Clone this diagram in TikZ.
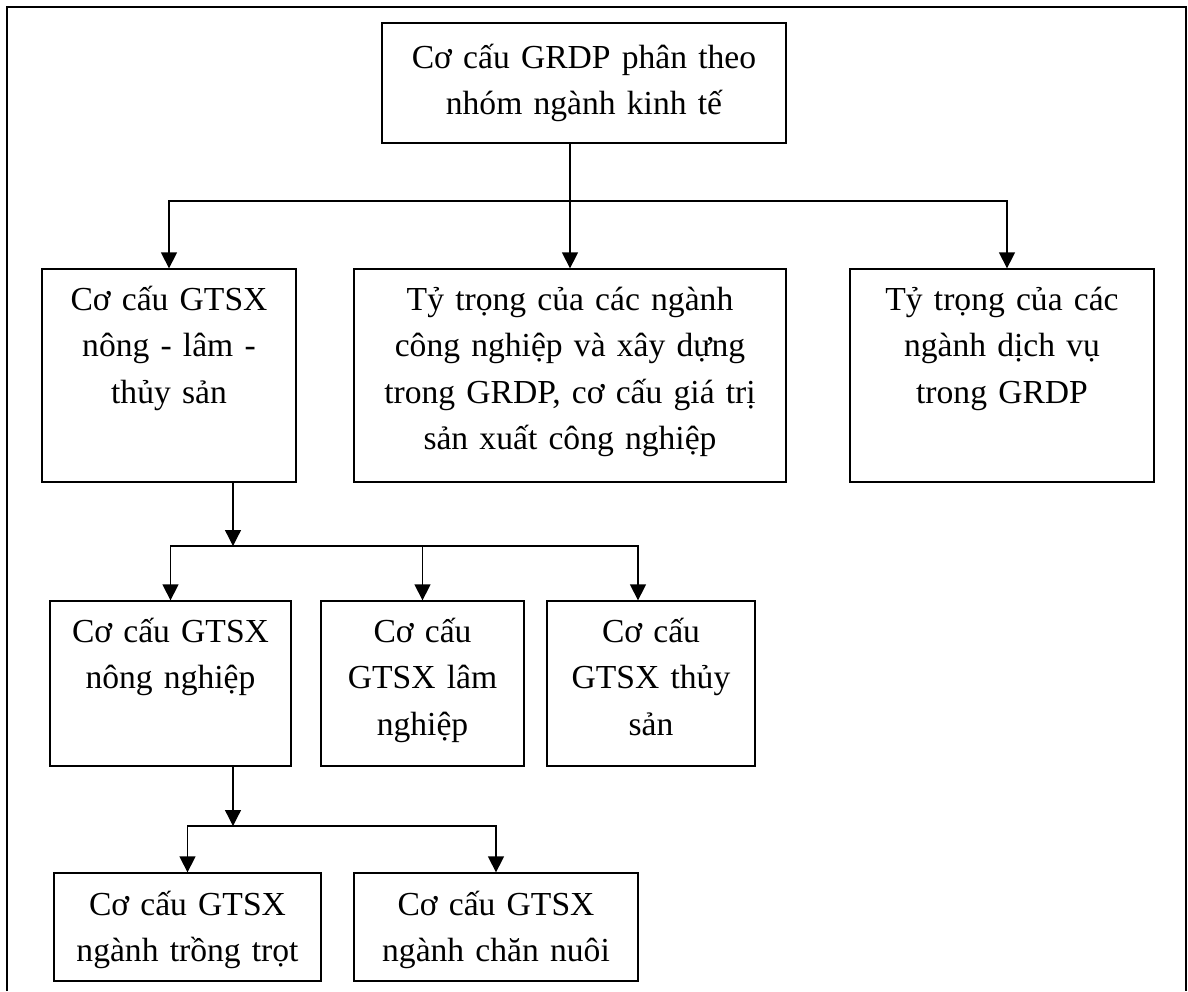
\documentclass[tikz,border=0pt]{standalone}
\usepackage{fontspec}
\setmainfont{Liberation Serif}
\usetikzlibrary{calc}
\usetikzlibrary{positioning}
\usetikzlibrary{arrows.meta}

\tikzset{
  box/.style 2 args={draw, line width=0.65pt, minimum width=#1*0.5pt, minimum height=#2*0.5pt, inner sep=0pt},
  lbl/.style={anchor=base, align=center, text width=#1*0.5pt, inner sep=0pt, font=\fontsize{16.8pt}{23.25pt}\selectfont},
  link/.style={line width=0.65pt, -{Triangle[width=8pt, length=8pt]}},
  frame/.style={line width=1pt}
}

\begin{document}
\begin{tikzpicture}[x=0.5pt, y=-0.5pt]
    \useasboundingbox (0,0) rectangle (1188,991);
    \draw[frame] (7,991) -- (7,7) -- (1186,7) -- (1186,991);
    % boxes
    \node[box={404}{120}] (T) at (584,83) {};
    \node[box={254}{213}] (A) at (169,375.5) {};
    \node[box={432}{213}] (B) at (570,375.5) {};
    \node[box={304}{213}] (C) at (1002,375.5) {};
    \node[box={241}{165}] (D) at (170.5,683.5) {};
    \node[box={203}{165}] (E) at (422.5,683.5) {};
    \node[box={208}{165}] (F) at (651,683.5) {};
    \node[box={267}{108}] (G) at (187.5,927) {};
    \node[box={284}{108}] (H) at (496,927) {};
    % texts
    \node[lbl=390] (Tt) at (584,68) {Cơ cấu GRDP phân theo\\nhóm ngành kinh tế};
    \node[lbl=240] (At) at (169,310) {Cơ cấu GTSX\\nông - lâm -\\thủy sản};
    \node[lbl=420] (Bt) at (570,310) {Tỷ trọng của các ngành\\công nghiệp và xây dựng\\trong GRDP, cơ cấu giá trị\\sản xuất công nghiệp};
    \node[lbl=290] (Ct) at (1002,310) {Tỷ trọng của các\\ngành dịch vụ\\trong GRDP};
    \node[lbl=230] (Dt) at (170.5,642) {Cơ cấu GTSX\\nông nghiệp};
    \node[lbl=195] (Et) at (422.5,642) {Cơ cấu\\GTSX lâm\\nghiệp};
    \node[lbl=200] (Ft) at (651,642) {Cơ cấu\\GTSX thủy\\sản};
    \node[lbl=255] (Gt) at (187.5,915) {Cơ cấu GTSX\\ngành trồng trọt};
    \node[lbl=275] (Ht) at (496,915) {Cơ cấu GTSX\\ngành chăn nuôi};
    % junctions
    \coordinate (j1) at (570,201);
    \coordinate (j2) at (233,546);
    \coordinate (j3) at (233,826);
    % connectors
    \draw[link] (T.south -| j1) -- (B.north);
    \draw[link] (j1) -| (A.north);
    \draw[link] (j1) -| ($(C.north)+(5,0)$);
    \draw[link] (A.south -| j2) -- (j2);
    \draw[link] (j2) -| (D.north);
    \draw[link] (E.north |- j2) -- (E.north);
    \draw[link] (j2) -| ($(F.north)+(-13,0)$);
    \draw[link] (D.south -| j3) -- (j3);
    \draw[link] (j3) -| (G.north);
    \draw[link] (j3) -| (H.north);
\end{tikzpicture}
\end{document}
